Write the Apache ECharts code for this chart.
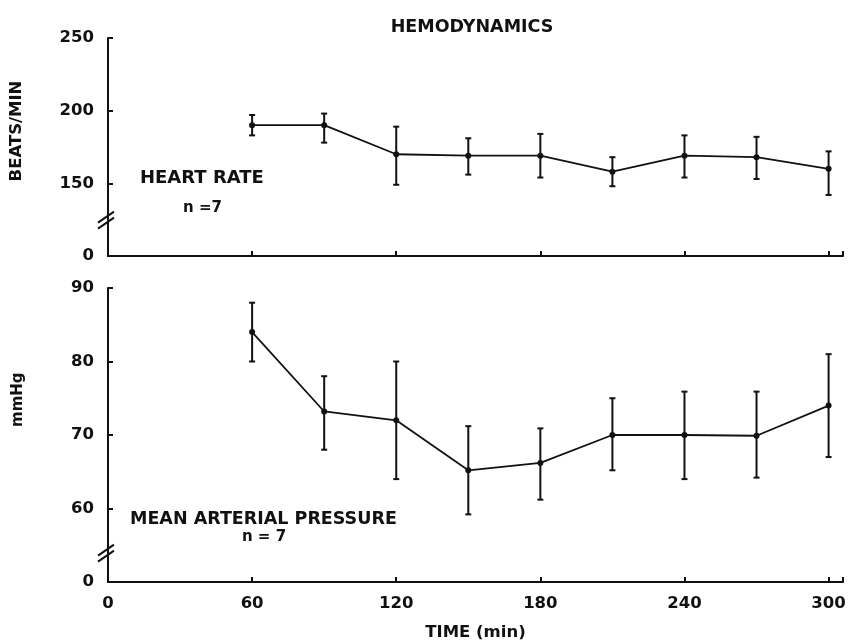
<!DOCTYPE html>
<html>
<head>
<meta charset="utf-8">
<script src="https://cdn.jsdelivr.net/npm/echarts@6/dist/echarts.min.js"></script>
<style>
  html, body { margin: 0; padding: 0; background: #fff; }
  #main { width: 851px; height: 643px; }
</style>
</head>
<body>
<div id="main"></div>
<script>
const times = [60, 90, 120, 150, 180, 210, 240, 270, 300]
const xTicks = [0, 60, 120, 180, 240, 300]

// heart rate (beats/min)
const hrMean = [190, 190, 170, 169, 169, 158, 169, 168, 160]
const hrLow = [183, 178, 149, 156, 154, 148, 154, 153, 142]
const hrHigh = [197, 198, 189, 181, 184, 168, 183, 182, 172]
const hrTicks = [0, 150, 200, 250]

// mean arterial pressure (mmHg)
const mapMean = [84, 73.2, 72, 65.2, 66.2, 70, 70, 69.9, 74]
const mapLow = [80, 68, 64, 59.2, 61.2, 65.2, 64, 64.2, 67]
const mapHigh = [88, 78, 80, 71.2, 70.9, 75, 75.9, 75.9, 81]
const mapTicks = [0, 60, 70, 80, 90]

const font = 'DejaVu Sans'
const chart = echarts.init(document.getElementById('main'))

const pairs = (ys) => times.map((t, i) => [t, ys[i]])
const bars = (lo, hi) => times.map((t, i) => [t, lo[i], hi[i]])

function errorBar(params, api) {
  const a = api.coord([api.value(0), api.value(1)])
  const b = api.coord([api.value(0), api.value(2)])
  const style = { stroke: '#111', lineWidth: 2 }
  return {
    type: 'group',
    children: [
      { type: 'line', shape: { x1: a[0], y1: a[1], x2: b[0], y2: b[1] }, style },
      { type: 'line', shape: { x1: a[0] - 3, y1: a[1], x2: a[0] + 3, y2: a[1] }, style },
      { type: 'line', shape: { x1: b[0] - 3, y1: b[1], x2: b[0] + 3, y2: b[1] }, style }
    ]
  }
}

const axisLine = { lineStyle: { color: '#111', width: 2 } }
const tickStyle = { inside: true, length: 5, lineStyle: { color: '#111', width: 2 } }
const labelStyle = { color: '#111', fontFamily: font, fontWeight: 'bold', fontSize: 16.5 }

function yAxis(gridIndex, min, max, interval, ticks) {
  return {
    type: 'value', gridIndex, min, max, interval,
    axisLine: { show: true, ...axisLine },
    axisTick: tickStyle,
    splitLine: { show: false },
    axisLabel: {
      ...labelStyle, margin: 14,
      formatter: (v) => (v === min ? String(ticks[0]) : String(v))
    }
  }
}

const option = {
  backgroundColor: '#fff',
  animation: false,
  title: {
    text: 'HEMODYNAMICS', left: 467, top: 13, textAlign: 'center',
    textStyle: { color: '#111', fontFamily: font, fontWeight: 'bold', fontSize: 17.5 }
  },
  grid: [
    { left: 108, right: 8, top: 38, height: 218, outerBoundsMode: 'none' },
    { left: 108, right: 8, top: 288, height: 294, outerBoundsMode: 'none' }
  ],
  xAxis: [
    {
      type: 'value', gridIndex: 0, min: 0, max: 306, interval: 60,
      axisLine, axisTick: tickStyle, axisLabel: { show: false }, splitLine: { show: false }
    },
    {
      type: 'value', gridIndex: 1, min: 0, max: 306, interval: 60,
      name: 'TIME (min)', nameLocation: 'middle', nameGap: 42,
      nameTextStyle: { color: '#111', fontFamily: font, fontWeight: 'bold', fontSize: 16.5 },
      axisLine, axisTick: tickStyle, splitLine: { show: false },
      axisLabel: {
        ...labelStyle, margin: 13,
        formatter: (v) => (xTicks.includes(v) ? String(v) : '')
      }
    }
  ],
  yAxis: [
    yAxis(0, 100, 250, 50, hrTicks),
    yAxis(1, 50, 90, 10, mapTicks)
  ],
  series: [
    {
      type: 'line', xAxisIndex: 0, yAxisIndex: 0, data: pairs(hrMean),
      symbol: 'circle', symbolSize: 6, itemStyle: { color: '#111' },
      lineStyle: { color: '#111', width: 1.8 }
    },
    {
      type: 'custom', xAxisIndex: 0, yAxisIndex: 0, data: bars(hrLow, hrHigh),
      renderItem: errorBar, encode: { x: 0, y: [1, 2] }
    },
    {
      type: 'line', xAxisIndex: 1, yAxisIndex: 1, data: pairs(mapMean),
      symbol: 'circle', symbolSize: 6, itemStyle: { color: '#111' },
      lineStyle: { color: '#111', width: 1.8 }
    },
    {
      type: 'custom', xAxisIndex: 1, yAxisIndex: 1, data: bars(mapLow, mapHigh),
      renderItem: errorBar, encode: { x: 0, y: [1, 2] }
    }
  ]
}
chart.setOption(option)

// labels inside panels, axis names and axis-break marks, placed through the axes
const hrLabel = chart.convertToPixel({ gridIndex: 0 }, [0, 150])
const mapLabel = chart.convertToPixel({ gridIndex: 1 }, [0, 60])
const hrName = chart.convertToPixel({ gridIndex: 0 }, [0, 186])
const mapName = chart.convertToPixel({ gridIndex: 1 }, [0, 74.8])

const txt = (x, y, text, align, size, rotation) => ({
  type: 'text', x, y, rotation: rotation || 0,
  style: {
    text, fill: '#111', font: 'bold ' + size + 'px "' + font + '"',
    textAlign: align, textVerticalAlign: 'middle'
  }
})

function breakMark(gridIndex, value) {
  const p = chart.convertToPixel({ gridIndex }, [0, value])
  const x = p[0], y = p[1]
  const s = { stroke: '#111', lineWidth: 2 }
  return [
    { type: 'rect', shape: { x: x - 3, y: y - 4, width: 6, height: 6 }, style: { fill: '#fff' } },
    { type: 'line', shape: { x1: x - 10, y1: y + 3, x2: x + 6, y2: y - 8 }, style: s },
    { type: 'line', shape: { x1: x - 10, y1: y + 9, x2: x + 6, y2: y - 2 }, style: s }
  ]
}

chart.setOption({
  graphic: [
    txt(hrName[0] - 91, hrName[1], 'BEATS/MIN', 'center', 16.5, Math.PI / 2),
    txt(mapName[0] - 90, mapName[1], 'mmHg', 'center', 15, Math.PI / 2),
    txt(hrLabel[0] + 32, hrLabel[1] - 5, 'HEART RATE', 'left', 18),
    txt(hrLabel[0] + 75, hrLabel[1] + 25, 'n =7', 'left', 15),
    txt(mapLabel[0] + 22, mapLabel[1] + 11, 'MEAN ARTERIAL PRESSURE', 'left', 17.5),
    txt(mapLabel[0] + 156, mapLabel[1] + 29, 'n = 7', 'center', 15),
    ...breakMark(0, 125),
    ...breakMark(1, 54)
  ]
})
</script>
</body>
</html>
